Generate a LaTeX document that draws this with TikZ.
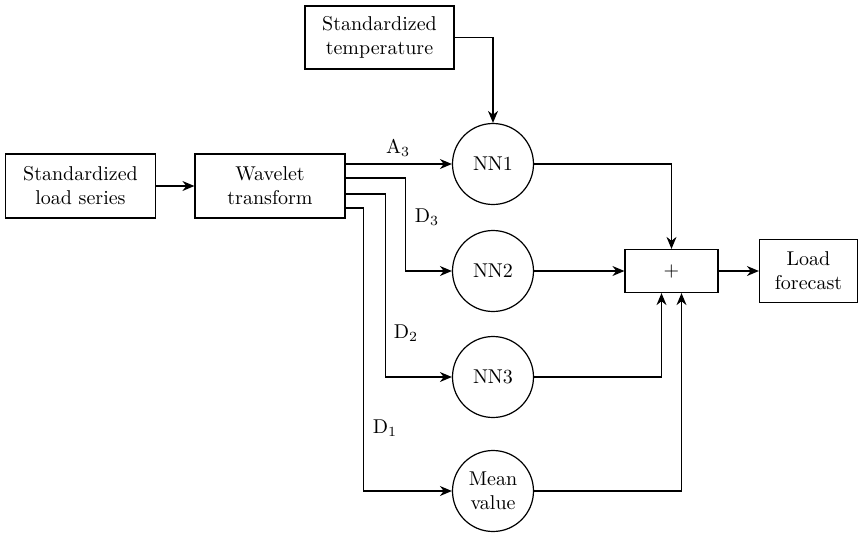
\documentclass[tikz,border=0pt]{standalone}
\usepackage{tikz}
\usetikzlibrary{arrows.meta}

\begin{document}
\begin{tikzpicture}[x=0.5pt,y=-0.5pt]
        \tikzstyle{block}=[draw, line width=0.6pt, align=center, inner sep=0pt, minimum width=75pt, minimum height=32pt];
        \tikzstyle{neuron}=[draw, line width=0.6pt, shape=circle, align=center, inner sep=0pt, minimum size=40.5pt];
        \tikzstyle{wire}=[line width=0.6pt, -{Stealth[length=6pt,width=5pt]}];
        \useasboundingbox (0,0) rectangle (859,532);
        % boxes
        \node[block] (load) at (80.5,186) {Standardized\\load series};
        \node[block] (wave) at (270,186) {Wavelet\\transform};
        \node[block, minimum width=74.5pt, minimum height=31.5pt] (temp) at (379.5,37.5) {Standardized\\temperature};
        \node[block, minimum width=46.5pt, minimum height=21.5pt] (plus) at (671.5,271) {+};
        \node[block, minimum width=49pt, minimum height=31.5pt] (forecast) at (808.5,271) {Load\\forecast};
        % networks
        \node[neuron] (nn1) at (493,164) {NN1};
        \node[neuron] (nn2) at (493,271) {NN2};
        \node[neuron] (nn3) at (493,377) {NN3};
        \node[neuron] (mean) at (493,491) {Mean\\value};
        % labels
        \node (a3) at (398,148) {A$_3$};
        \node (d3) at (427,217) {D$_3$};
        \node (d2) at (406,333) {D$_2$};
        \node (d1) at (385,428) {D$_1$};
        % connectors
        \draw[wire] (load) -- (wave);
        \draw[wire] ([yshift=11pt]wave.east) -- (nn1.west);
        \draw[wire] ([yshift=4pt]wave.east) -- ++(60,0) |- (nn2.west);
        \draw[wire] ([yshift=-4pt]wave.east) -- ++(40,0) |- (nn3.west);
        \draw[wire] ([yshift=-11pt]wave.east) -- ++(18,0) |- (mean.west);
        \draw[wire] (temp.east) -| (nn1.north);
        \draw[wire] (nn1.east) -| (plus.north);
        \draw[wire] (nn2.east) -- (plus.west);
        \draw[wire] (nn3.east) -| ([xshift=-5pt]plus.south);
        \draw[wire] (mean.east) -| ([xshift=5pt]plus.south);
        \draw[wire] (plus) -- (forecast);
    \end{tikzpicture}
\end{document}
